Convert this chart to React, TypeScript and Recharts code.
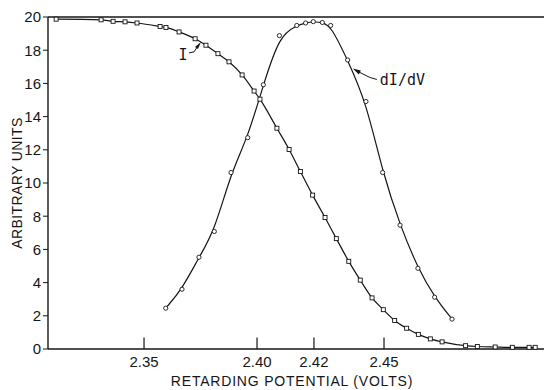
import React from 'react';
import { LineChart, Line, XAxis, YAxis, ReferenceLine, ReferenceDot } from 'recharts';

const I_VOLTS = [2.3111, 2.331, 2.3363, 2.3416, 2.3469, 2.3571, 2.3597, 2.3655, 2.3726, 2.3774, 2.3827, 2.3876,
  2.3934, 2.3987, 2.4013, 2.4088, 2.4142, 2.4192, 2.4246, 2.4301, 2.4351, 2.4406, 2.4457, 2.4509, 2.4559, 2.4609,
  2.4662, 2.4714, 2.4767, 2.4819, 2.4923, 2.4975, 2.5054, 2.513, 2.5204, 2.5231];
const I_VALUES = [19.87, 19.83, 19.74, 19.71, 19.64, 19.43, 19.37, 19.1, 18.69, 18.3, 17.79, 17.3,
  16.51, 15.54, 15.05, 13.3, 12.02, 10.69, 9.27, 7.92, 6.65, 5.28, 4.15, 3.08, 2.37, 1.72,
  1.25, 0.88, 0.61, 0.43, 0.2, 0.15, 0.12, 0.1, 0.1, 0.1];

const DIDV_VOLTS = [2.3596, 2.3668, 2.3743, 2.3811, 2.3885, 2.3959, 2.4028, 2.4099, 2.4176, 2.4215, 2.4249,
  2.4289, 2.4326, 2.4401, 2.4482, 2.4556, 2.4633, 2.4712, 2.4786, 2.4863];
const DIDV_VALUES = [2.46, 3.6, 5.53, 7.08, 10.63, 12.73, 15.92, 18.88, 19.49, 19.64, 19.72,
  19.67, 19.49, 17.41, 14.91, 10.63, 7.46, 4.86, 3.12, 1.8];

const X_TICKS = [2.35, 2.4, 2.4252, 2.4562];
const X_TICK_LABELS = ['2.35', '2.40', '2.42', '2.45'];
const Y_TICKS = [0, 2, 4, 6, 8, 10, 12, 14, 16, 18, 20];

const iData = I_VOLTS.map((v, i) => ({ v, val: I_VALUES[i] }));
const dData = DIDV_VOLTS.map((v, i) => ({ v, val: DIDV_VALUES[i] }));

const INK = '#161616';
const FONT = '"Liberation Sans", Arial, sans-serif';
const MONO = '"DejaVu Sans Mono", monospace';

const SquareDot = (p: any) => {
  if (p.cx == null) return null;
  return <rect key={'s' + p.index} x={p.cx - 2} y={p.cy - 2} width={4} height={4} fill="#fff" stroke={INK} strokeWidth={0.9} />;
};

const CircleDot = (p: any) => {
  if (p.cx == null) return null;
  return <circle key={'c' + p.index} cx={p.cx} cy={p.cy} r={2.1} fill="#fff" stroke={INK} strokeWidth={0.9} />;
};

const YTitle = (props: any) => {
  const vb = props.viewBox || { x: 0, y: 17, width: 48, height: 332 };
  const cx = vb.x + 17;
  const cy = vb.y + vb.height / 2;
  return (
    <text x={cx} y={cy} transform={`rotate(-90 ${cx} ${cy})`} textAnchor="middle" dominantBaseline="central"
      fontFamily={FONT} fontSize={14} letterSpacing={0.4} fill={INK}>
      ARBITRARY UNITS
    </text>
  );
};

const XTitle = (props: any) => {
  const vb = props.viewBox || { x: 48, y: 349, width: 496, height: 41 };
  return (
    <text x={vb.x + vb.width / 2 - 4} y={vb.y + 32} textAnchor="middle" dominantBaseline="central"
      fontFamily={FONT} fontSize={14} letterSpacing={0.8} fill={INK}>
      RETARDING POTENTIAL (VOLTS)
    </text>
  );
};

// arrow + "I" label, drawn relative to the point it points at
const ILabel = (p: any) => (
  <g>
    <path d={`M ${p.cx - 12} ${p.cy + 11} L ${p.cx - 7} ${p.cy + 10} L ${p.cx - 3} ${p.cy + 4}`} fill="none" stroke={INK} strokeWidth={1} />
    <polygon points={`${p.cx},${p.cy} ${p.cx - 6},${p.cy + 5} ${p.cx - 3},${p.cy + 7}`} fill={INK} />
    <text x={p.cx - 18} y={p.cy + 13} textAnchor="middle" dominantBaseline="central" fontFamily={MONO} fontSize={15} fill={INK}>I</text>
  </g>
);

const DLabel = (p: any) => (
  <g>
    <path d={`M ${p.cx + 24} ${p.cy + 11} L ${p.cx + 17} ${p.cy + 9} L ${p.cx + 5} ${p.cy + 3}`} fill="none" stroke={INK} strokeWidth={1} />
    <polygon points={`${p.cx},${p.cy} ${p.cx + 8},${p.cy + 2} ${p.cx + 6},${p.cy + 6}`} fill={INK} />
    <text x={p.cx + 27} y={p.cy + 12} textAnchor="start" dominantBaseline="central" fontFamily={MONO} fontSize={15} fill={INK}>dI/dV</text>
  </g>
);

export default function App() {
  return (
    <div style={{ position: 'absolute', left: 0, top: 0, width: 544, height: 390, background: '#fff', overflow: 'hidden' }}>
      <LineChart width={544} height={390} data={iData} margin={{ top: 17, right: 0, bottom: 0, left: 0 }}>
        <XAxis
          type="number"
          dataKey="v"
          domain={[2.3075, 2.527]}
          allowDataOverflow
          ticks={X_TICKS}
          tickFormatter={(v: number) => X_TICK_LABELS[X_TICKS.indexOf(v)]}
          height={41}
          tickSize={0}
          tickMargin={7}
          axisLine={{ stroke: INK, strokeWidth: 1.4 }}
          tick={{ fill: INK, fontSize: 15, fontFamily: FONT }}
          label={<XTitle />}
        />
        <YAxis
          type="number"
          domain={[0, 20]}
          ticks={Y_TICKS}
          interval={0}
          width={48}
          tickSize={5}
          tickMargin={2}
          axisLine={{ stroke: INK, strokeWidth: 1.4 }}
          tickLine={{ stroke: INK }}
          tick={{ fill: INK, fontSize: 15, fontFamily: FONT }}
          label={<YTitle />}
        />
        <ReferenceLine y={20} stroke={INK} strokeWidth={1.4} />
        {X_TICKS.map((t) => (
          <ReferenceLine key={t} segment={[{ x: t, y: 0 }, { x: t, y: 0.7 }]} stroke={INK} strokeWidth={1.2} />
        ))}
        <Line data={iData} dataKey="val" type="monotone" stroke={INK} strokeWidth={1.2} dot={SquareDot} isAnimationActive={false} />
        <Line data={dData} dataKey="val" type="basis" stroke={INK} strokeWidth={1.2} dot={CircleDot} isAnimationActive={false} />
        <ReferenceDot x={2.3752} y={18.5} r={0} shape={ILabel} />
        <ReferenceDot x={2.4424} y={16.9} r={0} shape={DLabel} />
      </LineChart>
    </div>
  );
}
